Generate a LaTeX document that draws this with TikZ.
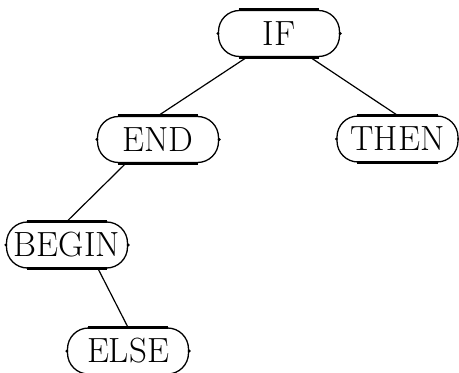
\documentclass[tikz,border=0pt]{standalone}
\usetikzlibrary{calc}
\begin{document}
\begin{tikzpicture}[x=0.5pt,y=-0.5pt,
  kw/.style={draw, rounded corners=10.5pt, minimum width=60.5pt, minimum height=23pt,
    inner sep=0pt, line width=0.65pt, font=\fontsize{17.5}{20}\selectfont},
  edge/.style={line width=0.6pt},
  thick edge/.style={line width=1.5pt}]
\useasboundingbox (0,0) rectangle (459,373);
\node[kw] (IF) at (279,33.5) {IF};
\node[kw] (END) at (158,139.5) {END};
\node[kw] (THEN) at (397.5,139) {THEN};
\node[kw] (BEGIN) at (67,245) {BEGIN};
\node[kw] (ELSE) at (128,351) {ELSE};
\foreach \n in {IF,END,THEN,BEGIN,ELSE}{
  \draw[thick edge] ([xshift=10.5pt]\n.north west) -- ([xshift=-10.5pt]\n.north east);
  \draw[thick edge] ([xshift=10.5pt]\n.south west) -- ([xshift=-10.5pt]\n.south east);
  \fill (\n.west) circle (0.8pt);
  \fill (\n.east) circle (0.8pt);
}
\draw[edge] ($(IF.south)+(-32,0)$) -- (END.north);
\draw[edge] ($(IF.south)+(31,0)$) -- (THEN.north);
\draw[edge] ($(END.south)+(-32,0)$) -- (BEGIN.north);
\draw[edge] ($(BEGIN.south)+(31,0)$) -- (ELSE.north);
\end{tikzpicture}
\end{document}
